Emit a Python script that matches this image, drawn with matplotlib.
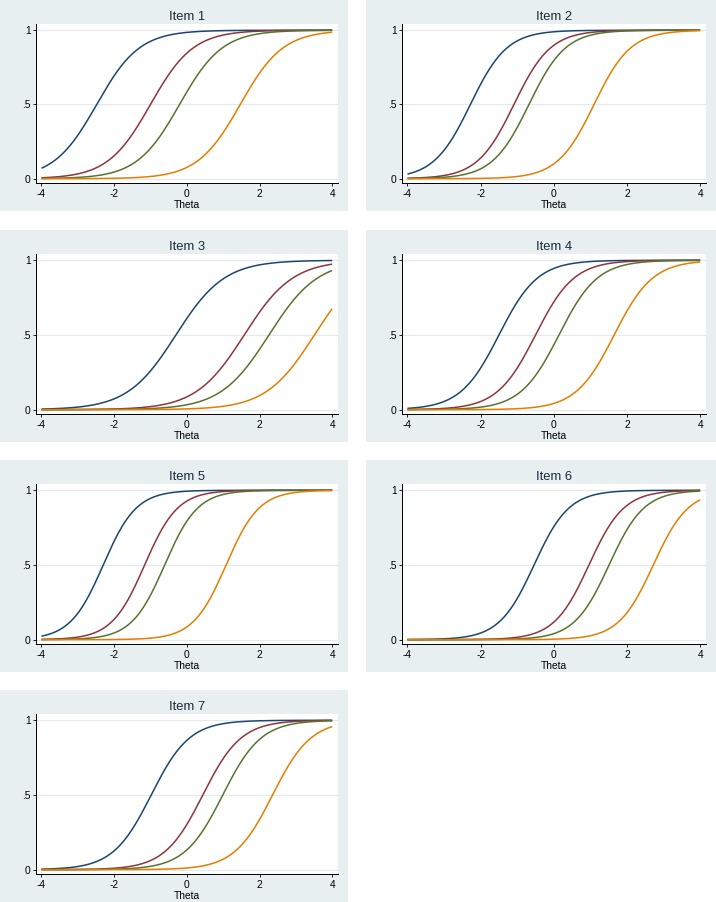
import numpy as np
import matplotlib.pyplot as plt
from matplotlib.patches import Rectangle

# category boundary curves, one discrimination + 4 thresholds per item
ITEMS = ["Item 1", "Item 2", "Item 3", "Item 4", "Item 5", "Item 6", "Item 7"]
DISCRIM = [1.7, 2.0, 1.5, 1.9, 2.2, 2.1, 1.9]
THRESH1 = [-2.48, -2.28, -0.30, -1.50, -2.30, -0.54, -0.98]
THRESH2 = [-1.00, -1.09, 1.58, -0.50, -1.16, 0.96, 0.44]
THRESH3 = [-0.20, -0.68, 2.26, 0.14, -0.61, 1.51, 0.99]
THRESH4 = [1.47, 1.10, 3.51, 1.65, 1.08, 2.72, 2.36]

X_TICKS = [-4, -2, 0, 2, 4]
Y_TICKS = [0, 0.5, 1]
Y_LABELS = ["0", ".5", "1"]

COLORS = ["#1a476f", "#90353b", "#55752f", "#e37e00"]
BG = "#e8eff1"

W, H = 716, 902
plt.rcParams['font.family'] = ['Liberation Sans', 'DejaVu Sans']
plt.rcParams['axes.unicode_minus'] = False
fig = plt.figure(figsize=(W / 100, H / 100), dpi=100)

# panel boxes in pixels (x0, y0, x1, y1), y from top
COLS = [(0, 348), (366, 716)]
ROWS = [(0, 211), (230, 442), (460, 672), (690, 902)]

theta = np.linspace(-4, 4, 400)

for i, name in enumerate(ITEMS):
    px0, px1 = COLS[i % 2]
    py0, py1 = ROWS[i // 2]

    # grey graph region (behind the axes)
    fig.patches.append(Rectangle((px0 / W, 1 - py1 / H), (px1 - px0) / W, (py1 - py0) / H,
                                 transform=fig.transFigure, facecolor=BG, edgecolor='none', zorder=-5))

    ax_l = px0 + 36
    ax_r = px1 - 10
    ax_t = py0 + 24
    ax_b = py1 - 28
    ax = fig.add_axes([ax_l / W, 1 - ax_b / H, (ax_r - ax_l) / W, (ax_b - ax_t) / H])
    ax.set_facecolor("white")

    bs = [THRESH1[i], THRESH2[i], THRESH3[i], THRESH4[i]]
    for b, c in zip(bs, COLORS):
        p = 1 / (1 + np.exp(-DISCRIM[i] * (theta - b)))
        ax.plot(theta, p, color=c, lw=1.1, solid_capstyle='butt', zorder=3)

    ax.set_xlim(-4.15, 4.16)
    ax.set_ylim(-0.029, 1.042)
    ax.set_xticks(X_TICKS)
    ax.set_yticks(Y_TICKS)
    ax.set_yticklabels(Y_LABELS)
    for yv in Y_TICKS:
        ax.axhline(yv, color="#e3eaed", lw=0.8, zorder=1)

    for s in ["top", "right"]:
        ax.spines[s].set_visible(False)
    for s in ["left", "bottom"]:
        ax.spines[s].set_color("black")
        ax.spines[s].set_linewidth(0.7)
    ax.tick_params(length=2.5, width=0.6, labelsize=7.4, pad=1.5, colors="black")
    ax.set_xlabel("Theta", fontsize=7.4, labelpad=1)
    ax.set_title(name, fontsize=9.4, color="#1c2a39", pad=3)

fig.savefig("out.png", dpi=100)
